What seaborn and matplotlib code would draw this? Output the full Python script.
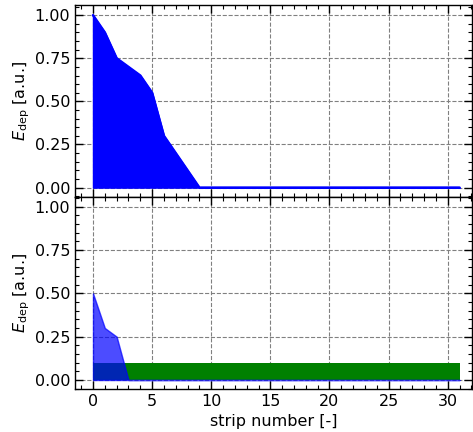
import numpy as np
import pandas as pd
import matplotlib
matplotlib.use("Agg")
import matplotlib.pyplot as plt
import seaborn as sns
from matplotlib.ticker import MultipleLocator

strips = list(range(32))
edep_top = [1.0, 0.9, 0.75, 0.7, 0.65, 0.55, 0.3, 0.2, 0.1] + [0.0] * 23
edep_bottom_blue = [0.5, 0.3, 0.25] + [0.0] * 29
edep_bottom_green = [0.1] * 32

sns.set_style("ticks")
plt.rcParams['font.family'] = ['DejaVu Sans']
plt.rcParams['font.size'] = 11.5
plt.rcParams['text.color'] = 'black'
plt.rcParams['axes.labelcolor'] = 'black'
plt.rcParams['xtick.color'] = 'black'
plt.rcParams['ytick.color'] = 'black'
plt.rcParams['axes.edgecolor'] = 'black'

fig = plt.figure(figsize=(4.73, 4.32), dpi=100)
ax1 = fig.add_axes([0.1586, 0.545, 0.8394, 0.443])
ax2 = fig.add_axes([0.1586, 0.0995, 0.8394, 0.4455], sharex=ax1)

df_top = pd.DataFrame({"strip": strips, "edep": edep_top})
ax1.fill_between(df_top["strip"], 0, df_top["edep"], color="blue", lw=1, zorder=2)
sns.lineplot(data=df_top, x="strip", y="edep", ax=ax1, color="blue", lw=1.8, zorder=3)

df_b = pd.DataFrame({"strip": strips, "blue": edep_bottom_blue, "green": edep_bottom_green})
ax2.fill_between(df_b["strip"], 0, df_b["green"], color="green", lw=0, zorder=2)
ax2.fill_between(df_b["strip"], 0, df_b["blue"], color="blue", alpha=0.7, lw=1, zorder=3)

for ax in (ax1, ax2):
    ax.set_xlim(-1.52, 32.06)
    ax.set_ylim(-0.052, 1.058)
    ax.yaxis.set_major_locator(MultipleLocator(0.25))
    ax.yaxis.set_minor_locator(MultipleLocator(0.05))
    ax.xaxis.set_major_locator(MultipleLocator(5))
    ax.xaxis.set_minor_locator(MultipleLocator(1))
    ax.tick_params(which="both", direction="in", top=True, right=True, labelsize=11.5,
                   colors="black")
    ax.tick_params(which="major", length=6, width=1)
    ax.tick_params(which="minor", length=3, width=0.8)
    ax.grid(True, which="major", ls="--", color="gray", lw=0.8)
    ax.set_axisbelow(True)
    ax.set_ylabel(r"$E_{\mathrm{dep}}$ [a.u.]", fontsize=11.5, labelpad=2)
    for s in ax.spines.values():
        s.set_linewidth(1.0)
        s.set_color("black")

ax1.set_xlabel("")
plt.setp(ax1.get_xticklabels(), visible=False)
ax2.set_xlabel("strip number [-]", fontsize=11.5)

fig.savefig("out.png", dpi=100)
